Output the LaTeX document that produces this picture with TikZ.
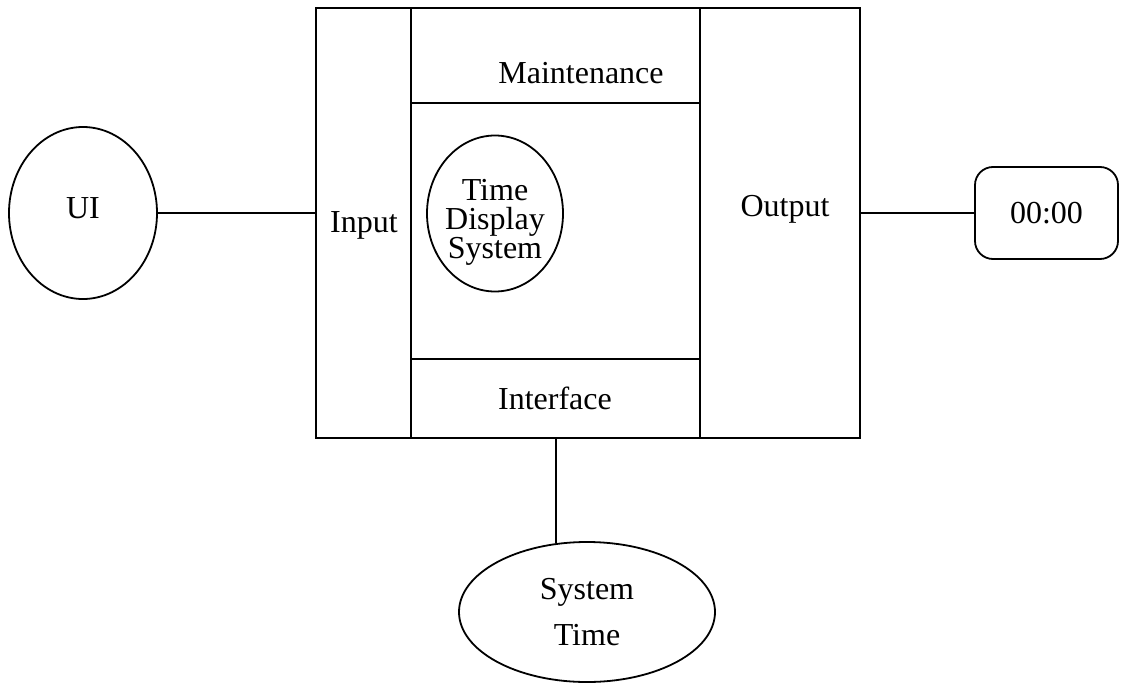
\documentclass[tikz,border=0pt]{standalone}
\usepackage{fontspec}
\setmainfont{Liberation Serif}
\usetikzlibrary{shapes.geometric}
\begin{document}
\begin{tikzpicture}[x=1pt,y=-1pt,
  every node/.style={font=\fontsize{32}{32}\selectfont},
  ln/.style={line width=1.8pt},
  box/.style={draw,ln,inner sep=0pt},
  ell/.style={draw,ln,ellipse,inner sep=0pt},
  txt/.style={inner sep=0pt,align=center}]
\useasboundingbox (0,0) rectangle (1127,696);
% main block regions
\node[box,minimum width=95pt,minimum height=430pt] (inp) at (363.5,223) {};
\node[box,minimum width=160pt,minimum height=430pt] (outp) at (780,223) {};
\node[box,minimum width=289pt,minimum height=95pt] (maint) at (555.5,55.5) {};
\node[box,minimum width=289pt,minimum height=256pt] (core) at (555.5,231) {};
\node[box,minimum width=289pt,minimum height=79pt] (intf) at (555.5,398.5) {};
% labels
\node[txt] (tmaint) at (581,73) {Maintenance};
\node[txt] (tinp) at (364,225) {Input};
\node[txt] (toutp) at (785,209) {Output};
\node[txt] (tintf) at (555,398) {Interface};
% inner ellipse
\node[ell,minimum width=136pt,minimum height=156pt] (tds) at (495,213.5) {};
\node[txt,font=\fontsize{32}{29}\selectfont] (tdstext) at (495,222) {Time\\Display\\System};
% outer elements
\node[ell,minimum width=148pt,minimum height=172pt] (ui) at (83,213) {};
\node[txt] (uitext) at (83,208) {UI};
\node[box,rounded corners=18pt,minimum width=143pt,minimum height=92pt] (clock) at (1046.5,213) {00:00};
\node[ell,minimum width=256pt,minimum height=140pt,align=center] (stime) at (587,612) {System\\[14pt]Time};
% connectors
\draw[ln] (ui.east) -- (ui.east -| inp.west);
\draw[ln] (outp.east |- clock.west) -- (clock.west);
\draw[ln] ([xshift=0.5pt]intf.south) -- ([xshift=0.5pt]intf.south |- stime.115);
\end{tikzpicture}
\end{document}
